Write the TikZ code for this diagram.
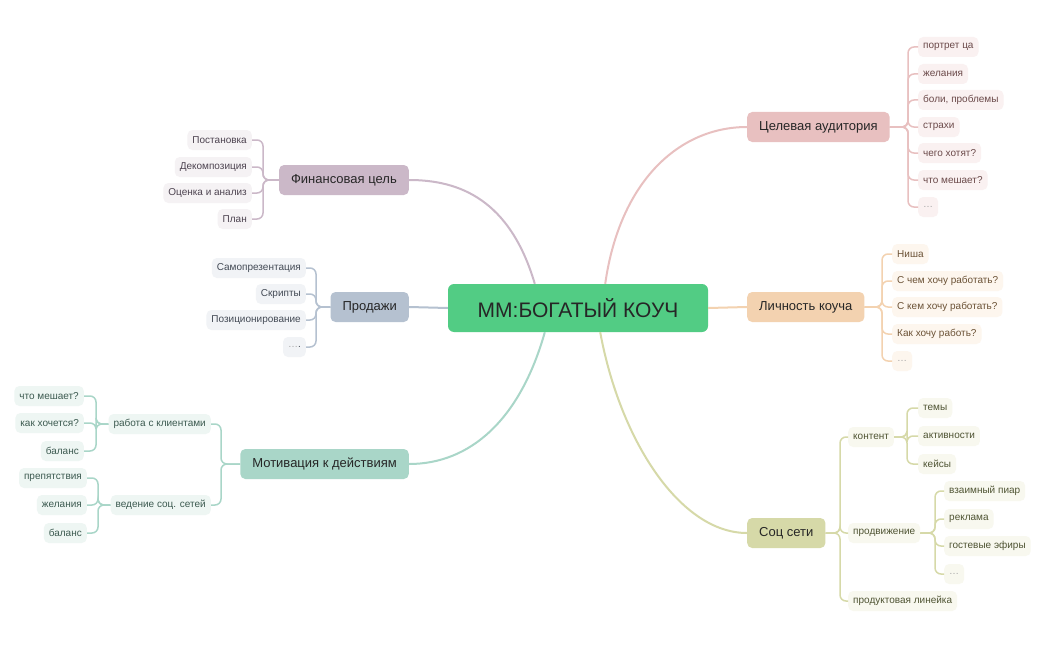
\documentclass[tikz,border=0pt]{standalone}
\usepackage{fontspec}
\setmainfont{Liberation Sans}
\definecolor{cgreen}{HTML}{52CC84}
\definecolor{cpink}{HTML}{E8C0C0}\definecolor{lpink}{HTML}{FAF1F1}\definecolor{tpink}{HTML}{6B4A4A}
\definecolor{corange}{HTML}{F3D2B0}\definecolor{lorange}{HTML}{FDF6EE}\definecolor{torange}{HTML}{6B5236}
\definecolor{colive}{HTML}{D6D9A8}\definecolor{lolive}{HTML}{F8F8EF}\definecolor{tolive}{HTML}{4F5433}
\definecolor{cpurple}{HTML}{CBB8C8}\definecolor{lpurple}{HTML}{F5F2F4}\definecolor{tpurple}{HTML}{4D4350}
\definecolor{cblue}{HTML}{B5C1D0}\definecolor{lblue}{HTML}{F1F3F6}\definecolor{tblue}{HTML}{434A55}
\definecolor{cteal}{HTML}{A9D6C8}\definecolor{lteal}{HTML}{EEF6F3}\definecolor{tteal}{HTML}{3C5A50}
\newcommand{\dd}{{\color{black!35}\ldots}}
\begin{document}
\begin{tikzpicture}[x=1pt,y=-1pt,
  main/.style={rounded corners=5pt,minimum height=30pt,inner xsep=12pt,font=\fontsize{13}{15}\selectfont,text=black!85},
  leaf/.style={rounded corners=5pt,minimum height=20pt,inner xsep=5pt,font=\fontsize{10}{12}\selectfont},
  lk/.style={line width=1.5pt,rounded corners=6pt},
  cv/.style={line width=2pt}]
\fill[white] (0,0) rectangle (1048,650);
\node[fill=cgreen,rounded corners=6pt,minimum width=260pt,minimum height=48pt,font=\fontsize{21}{24}\selectfont,text=black!85] (c) at (578,308) {ММ:БОГАТЫЙ КОУЧ};
% main branches
\node[main,fill=cpink,anchor=west] (ca) at (747,127) {Целевая аудитория};
\node[main,fill=corange,anchor=west] (lk) at (747,307) {Личность коуча};
\node[main,fill=colive,anchor=west] (ss) at (747,533) {Соц сети};
\node[main,fill=cpurple,anchor=east] (fc) at (409,180) {Финансовая цель};
\node[main,fill=cblue,anchor=east] (pr) at (409,307) {Продажи};
\node[main,fill=cteal,anchor=east] (mo) at (409,464) {Мотивация к действиям};
\begin{scope}[on background layer/.style={}]
\draw[cv,cpink] ([xshift=-103pt]c.north east) .. controls (620,180) and (680,127) .. (ca.west);
\draw[cv,corange] (c.east) -- (lk.west);
\draw[cv,colive] ([xshift=-108pt]c.south east) .. controls (620,440) and (680,533) .. (ss.west);
\draw[cv,cpurple] ([xshift=87pt]c.north west) .. controls (510,200) and (460,180) .. (fc.east);
\draw[cv,cblue] (c.west) -- (pr.east);
\draw[cv,cteal] ([xshift=97pt]c.south west) .. controls (520,420) and (470,464) .. (mo.east);
\end{scope}
% Целевая аудитория
\coordinate (b1) at (908,127);
\foreach \t/\y/\n in {портрет ца/47/a1,желания/74/a2,{боли, проблемы}/100/a3,страхи/127/a4,чего хотят?/153/a5,что мешает?/180/a6,\dd/207/a7}{
  \node[leaf,fill=lpink,text=tpink,anchor=west] (\n) at (918,\y) {\t};
  \draw[lk,cpink] (ca.east) -- (b1) |- (\n.west);}
% Личность
\coordinate (b2) at (882,307);
\foreach \t/\y/\n in {Ниша/254/l1,С чем хочу работать?/281/l2,С кем хочу работать?/307/l3,Как хочу работь?/334/l4,\dd/361/l5}{
  \node[leaf,fill=lorange,text=torange,anchor=west] (\n) at (892,\y) {\t};
  \draw[lk,corange] (lk.east) -- (b2) |- (\n.west);}
% Соц сети
\coordinate (b3) at (840,533);
\foreach \t/\y/\n in {контент/437/s1,продвижение/533/s2,продуктовая линейка/601/s3}{
  \node[leaf,fill=lolive,text=tolive,anchor=west] (\n) at (848,\y) {\t};
  \draw[lk,colive] (ss.east) -- (b3) |- (\n.west);}
\coordinate (b4) at (907,437);
\foreach \t/\y/\n in {темы/408/k1,активности/436/k2,кейсы/464/k3}{
  \node[leaf,fill=lolive,text=tolive,anchor=west] (\n) at (918,\y) {\t};
  \draw[lk,colive] (s1.east) -- (b4) |- (\n.west);}
\coordinate (b5) at (935,533);
\foreach \t/\y/\n in {взаимный пиар/491/p1,реклама/519/p2,гостевые эфиры/546/p3,\dd/574/p4}{
  \node[leaf,fill=lolive,text=tolive,anchor=west] (\n) at (944,\y) {\t};
  \draw[lk,colive] (s2.east) -- (b5) |- (\n.west);}
% Финансовая
\coordinate (b6) at (263,180);
\foreach \t/\y/\n in {Постановка/140/f1,Декомпозиция/167/f2,Оценка и анализ/193/f3,План/219/f4}{
  \node[leaf,fill=lpurple,text=tpurple,anchor=east] (\n) at (252,\y) {\t};
  \draw[lk,cpurple] (fc.west) -- (b6) |- (\n.east);}
% Продажи
\coordinate (b7) at (316,307);
\foreach \t/\y/\n in {Самопрезентация/268/q1,Скрипты/294/q2,Позиционирование/320/q3,{\dd.}/347/q4}{
  \node[leaf,fill=lblue,text=tblue,anchor=east] (\n) at (306,\y) {\t};
  \draw[lk,cblue] (pr.west) -- (b7) |- (\n.east);}
% Мотивация
\coordinate (b8) at (221,464);
\foreach \t/\y/\n in {работа с клиентами/424/m1,ведение соц. сетей/505/m2}{
  \node[leaf,fill=lteal,text=tteal,anchor=east] (\n) at (211,\y) {\t};
  \draw[lk,cteal] (mo.west) -- (b8) |- (\n.east);}
\coordinate (b9) at (96,424);
\foreach \t/\y/\n in {что мешает?/396/r1,как хочется?/423/r2,баланс/451/r3}{
  \node[leaf,fill=lteal,text=tteal,anchor=east] (\n) at (84,\y) {\t};
  \draw[lk,cteal] (m1.west) -- (b9) |- (\n.east);}
\coordinate (b10) at (98,505);
\foreach \t/\y/\n in {препятствия/478/v1,желания/505/v2,баланс/533/v3}{
  \node[leaf,fill=lteal,text=tteal,anchor=east] (\n) at (87,\y) {\t};
  \draw[lk,cteal] (m2.west) -- (b10) |- (\n.east);}
\end{tikzpicture}
\end{document}
